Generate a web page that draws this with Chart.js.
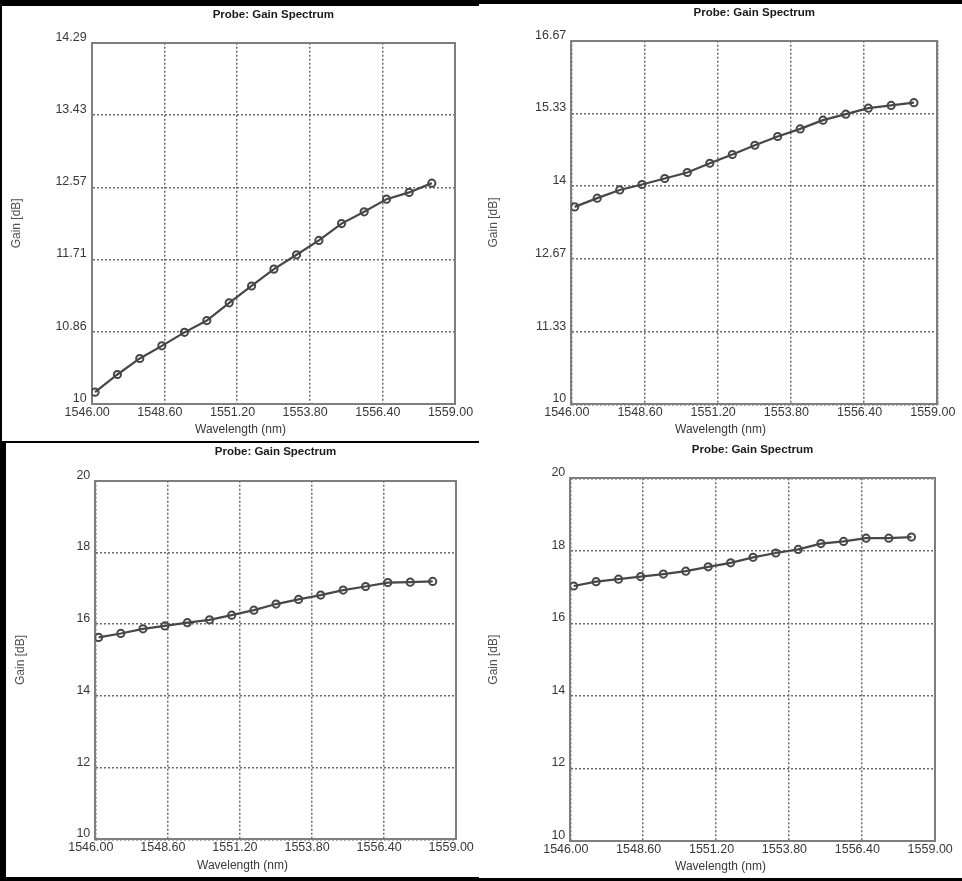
<!DOCTYPE html>
<html>
<head>
<meta charset="utf-8">
<script src="https://cdn.jsdelivr.net/npm/chart.js@4.4.0/dist/chart.umd.min.js"></script>
<style>
html, body { margin: 0; padding: 0; background: #000; width: 962px; height: 881px; overflow: hidden; }
.panel { position: absolute; background: #fff; }
canvas { display: block; }
</style>
</head>
<body>
<div class="panel" style="left:2px;top:6px;width:477px;height:435px"><canvas id="cA" width="477" height="435"></canvas></div>
<div class="panel" style="left:479px;top:4px;width:483px;height:437px"><canvas id="cB" width="483" height="437"></canvas></div>
<div class="panel" style="left:6px;top:443px;width:473px;height:434px"><canvas id="cC" width="473" height="434"></canvas></div>
<div class="panel" style="left:479px;top:441px;width:483px;height:437px"><canvas id="cD" width="483" height="437"></canvas></div>
<script>
// ---- data ----
const wavelengths = [1546.12, 1546.92, 1547.72, 1548.51, 1549.32, 1550.12, 1550.92, 1551.72,
                     1552.52, 1553.33, 1554.13, 1554.94, 1555.75, 1556.55, 1557.36, 1558.17];
const gainA = [10.14, 10.35, 10.54, 10.69, 10.85, 10.99, 11.20, 11.40, 11.60, 11.77, 11.94, 12.14, 12.28, 12.43, 12.51, 12.62];
const gainB = [13.62, 13.78, 13.93, 14.03, 14.14, 14.25, 14.42, 14.58, 14.75, 14.91, 15.05, 15.21, 15.32, 15.43, 15.48, 15.53];
const gainC = [15.63, 15.74, 15.87, 15.95, 16.04, 16.12, 16.25, 16.39, 16.56, 16.69, 16.81, 16.95, 17.05, 17.16, 17.17, 17.19];
const gainD = [17.03, 17.15, 17.22, 17.29, 17.36, 17.44, 17.56, 17.67, 17.82, 17.94, 18.04, 18.20, 18.26, 18.35, 18.35, 18.38];
const xTicks = [1546.0, 1548.6, 1551.2, 1553.8, 1556.4, 1559.0];
const yTicksA = [10, 10.857, 11.714, 12.571, 13.429, 14.286];
const yTicksB = [10, 11.333, 12.667, 14, 15.333, 16.667];
const yTicksC = [10, 12, 14, 16, 18, 20];
const yTicksD = [10, 12, 14, 16, 18, 20];
const titleText = 'Probe: Gain Spectrum';
const xTitleText = 'Wavelength (nm)';
const yTitleText = 'Gain [dB]';

// ---- layout (per panel geometry) ----
const geomA = { plotLeft: 89.7, plotTop: 36.7, rightGap: 24, bottomGap: 37 };
const geomB = { plotLeft: 92.3, plotTop: 36.7, rightGap: 24.7, bottomGap: 36.7 };
const geomC = { plotLeft: 89.3, plotTop: 37.7, rightGap: 23.3, bottomGap: 37.7 };
const geomD = { plotLeft: 91.3, plotTop: 37.3, rightGap: 27.3, bottomGap: 37 };

const FONT = "'Liberation Sans', Arial, Helvetica, sans-serif";
const GRID = { color: '#6a6a6a', lineWidth: 1.5, drawTicks: false };
const FRAME = '#7e7e7e';

function fmtY(v) { return String(Number(Number(v).toFixed(2))); }

function build(id, gain, yTicks, g) {
  const tSize = 11.5, tLH = tSize * 1.2;
  const titleTop = 9 - tLH / 2;
  const sSize = 12, sLH = sSize * 1.2;
  const subBottom = 11 - sLH / 2;
  const subH = sLH + subBottom;
  new Chart(document.getElementById(id), {
    type: 'line',
    data: {
      datasets: [{
        data: wavelengths.map((w, i) => ({ x: w, y: gain[i] })),
        borderColor: '#474747', borderWidth: 2.2,
        pointRadius: 3.6, pointBorderWidth: 2,
        pointBorderColor: '#474747', pointBackgroundColor: 'rgba(255,255,255,0)',
        tension: 0, fill: false, xAxisID: 'x', yAxisID: 'y'
      }]
    },
    options: {
      responsive: false, animation: false, devicePixelRatio: 1,
      layout: { padding: 0 },
      plugins: {
        legend: { display: false },
        tooltip: { enabled: false },
        title: {
          display: true, text: titleText, fullSize: false, color: '#1a1a1a',
          font: { family: FONT, size: tSize, weight: 'bold', lineHeight: 1.2 },
          padding: { top: titleTop, bottom: g.plotTop - titleTop - tLH }
        },
        subtitle: {
          display: true, position: 'bottom', fullSize: true, text: xTitleText, color: '#383838',
          font: { family: FONT, size: sSize, lineHeight: 1.2 },
          padding: { top: 0, bottom: subBottom }
        }
      },
      scales: {
        x: {
          type: 'linear', position: 'bottom',
          min: xTicks[0], max: xTicks[xTicks.length - 1],
          afterBuildTicks: s => { s.ticks = xTicks.map(v => ({ value: v })); },
          afterFit: s => { s.height = g.bottomGap - subH; s.paddingLeft = 0; s.paddingRight = 0; },
          grid: GRID,
          border: { display: true, color: FRAME, width: 2, dash: [2, 2] },
          ticks: {
            padding: 1, labelOffset: -4.5, autoSkip: false, maxRotation: 0, minRotation: 0,
            color: '#383838', font: { family: FONT, size: 12.5 },
            callback: v => Number(v).toFixed(2)
          }
        },
        y: {
          type: 'linear', position: 'left',
          min: yTicks[0], max: yTicks[yTicks.length - 1],
          afterBuildTicks: s => { s.ticks = yTicks.map(v => ({ value: v })); },
          afterFit: s => { s.width = g.plotLeft; s.paddingTop = 0; s.paddingBottom = 0; },
          grid: GRID,
          border: { display: true, color: FRAME, width: 2, dash: [2, 2] },
          ticks: {
            padding: 5, labelOffset: -5.5, color: '#383838',
            font: { family: FONT, size: 12.5 },
            callback: v => fmtY(v)
          },
          title: {
            display: true, text: yTitleText, color: '#505050',
            font: { family: FONT, size: 12, lineHeight: 1.2 },
            padding: { top: 7.5, bottom: 0 }
          }
        },
        x2: {
          type: 'linear', position: 'top',
          ticks: { display: false }, grid: { display: false, drawTicks: false },
          border: { display: true, color: FRAME, width: 2 },
          afterFit: s => { s.height = 0; s.paddingLeft = 0; s.paddingRight = 0; }
        },
        y2: {
          type: 'linear', position: 'right',
          ticks: { display: false }, grid: { display: false, drawTicks: false },
          border: { display: true, color: FRAME, width: 2 },
          afterFit: s => { s.width = g.rightGap; s.paddingTop = 0; s.paddingBottom = 0; }
        }
      }
    }
  });
}

build('cA', gainA, yTicksA, geomA);
build('cB', gainB, yTicksB, geomB);
build('cC', gainC, yTicksC, geomC);
build('cD', gainD, yTicksD, geomD);
</script>
</body>
</html>
